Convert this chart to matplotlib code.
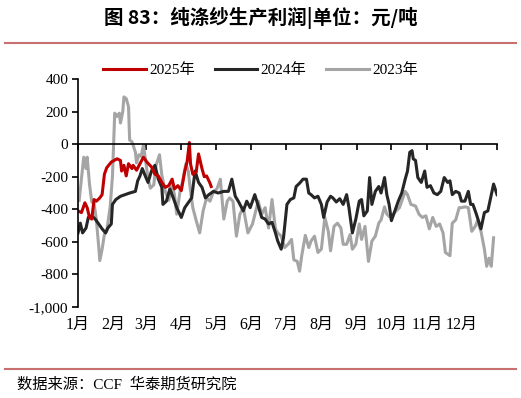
import numpy as np
import matplotlib.pyplot as plt
from matplotlib.lines import Line2D

plt.rcParams['font.family'] = ['Liberation Serif', 'Noto Sans CJK SC', 'DejaVu Sans']

# --- data (day of year, profit yuan/ton) ---
days_2025 = [0, 3, 6, 8, 10, 12, 14, 16, 19, 21, 23, 25, 29, 34, 37, 38, 40, 42, 44, 47,
             48, 51, 54, 57, 60, 64, 67, 70, 73, 76, 79, 82, 84, 87, 90, 93, 95, 97, 98,
             100, 103, 105, 108, 110, 112, 115, 116]
vals_2025 = [-410, -420, -360, -390, -450, -460, -340, -350, -330, -310, -185, -145, -110,
             -90, -100, -165, -130, -195, -120, -150, -130, -160, -120, -80, -110, -140,
             -185, -195, -235, -265, -255, -215, -275, -255, -285, -165, -110, 10, -120,
             -185, -170, -60, -150, -200, -195, -240, -260]

days_2024 = [0, 2, 4, 7, 9, 12, 15, 18, 21, 24, 26, 29, 30, 33, 37, 41, 45, 50, 52, 54,
             56, 58, 61, 64, 67, 70, 73, 74, 77, 80, 83, 86, 90, 93, 96, 99, 102, 105, 108,
             111, 114, 118, 122, 127, 131, 134, 137, 140, 144, 147, 150, 154, 157, 160,
             163, 166, 169, 172, 174, 177, 179, 182, 185, 188, 190, 193, 196, 199, 201,
             203, 206, 209, 212, 214, 217, 220, 222, 225, 228, 231, 234, 236, 239, 242,
             245, 247, 249, 252, 254, 256, 259, 262, 264, 267, 269, 271, 273, 276, 279,
             282, 285, 287, 289, 291, 292, 294, 296, 299, 302, 304, 307, 310, 313, 316,
             319, 322, 324, 326, 329, 332, 334, 337, 340, 342, 344, 347, 351, 354, 357,
             360, 362, 365]
vals_2024 = [-545, -485, -545, -515, -450, -440, -460, -490, -520, -545, -515, -490, -370,
             -340, -320, -310, -300, -290, -225, -195, -150, -185, -235, -165, -130, -215,
             -265, -370, -350, -275, -330, -390, -450, -390, -360, -330, -165, -235, -265,
             -330, -310, -290, -300, -290, -290, -215, -320, -355, -410, -350, -390, -310,
             -380, -450, -460, -490, -480, -545, -595, -645, -575, -370, -340, -330, -260,
             -240, -215, -215, -300, -310, -330, -320, -370, -450, -355, -320, -330, -355,
             -335, -370, -310, -390, -545, -460, -350, -340, -440, -410, -205, -370, -290,
             -260, -300, -205, -310, -370, -470, -410, -350, -300, -215, -165, -50, -40,
             -90, -100, -205, -235, -165, -265, -255, -300, -310, -290, -205, -235, -225,
             -310, -290, -300, -350, -350, -290, -370, -370, -430, -520, -420, -410, -310,
             -245, -310]

days_2023 = [1, 3, 5, 7, 8, 10, 12, 14, 16, 18, 19, 21, 23, 25, 28, 30, 32, 34, 36, 37,
             39, 40, 42, 44, 45, 47, 48, 50, 51, 53, 55, 57, 59, 61, 63, 66, 68, 71, 73,
             76, 79, 82, 84, 86, 89, 91, 94, 96, 98, 100, 103, 106, 109, 112, 115, 118,
             121, 124, 127, 130, 132, 135, 138, 141, 144, 148, 152, 157, 160, 163, 166,
             169, 172, 174, 177, 180, 183, 186, 188, 191, 193, 195, 198, 201, 203, 206,
             209, 212, 215, 218, 220, 223, 226, 229, 231, 234, 237, 239, 242, 245, 247,
             250, 253, 256, 259, 262, 264, 267, 269, 272, 277, 280, 283, 285, 287, 290,
             294, 297, 300, 303, 306, 309, 312, 315, 318, 320, 324, 326, 329, 332, 334,
             337, 340, 343, 346, 348, 351, 354, 356, 358, 360, 362]
vals_2023 = [-345, -215, -80, -150, -80, -245, -355, -365, -465, -625, -715, -645, -555,
             -535, -385, -200, 190, 170, 190, 130, 200, 290, 280, 230, 25, 15, -5, -50,
             -115, -65, -75, -5, -110, -210, -270, -250, -130, -65, -190, -290, -345, -250,
             -310, -430, -285, -235, -120, -165, -285, -390, -470, -545, -410, -330, -350,
             -290, -275, -215, -460, -350, -330, -350, -565, -430, -390, -545, -490, -350,
             -430, -390, -515, -340, -520, -545, -565, -635, -615, -585, -710, -720, -780,
             -680, -560, -635, -595, -565, -665, -645, -450, -535, -655, -505, -485, -515,
             -615, -615, -555, -645, -615, -490, -585, -505, -720, -595, -565, -485, -465,
             -385, -430, -450, -410, -390, -330, -290, -310, -370, -380, -430, -450, -440,
             -520, -450, -505, -490, -545, -665, -685, -485, -465, -390, -390, -385, -390,
             -535, -505, -470, -535, -645, -750, -700, -750, -575]

month_starts = [0, 31, 59, 90, 120, 151, 181, 212, 243, 273, 304, 334, 365]
month_labels = ['1月', '2月', '3月', '4月', '5月', '6月', '7月', '8月', '9月', '10月', '11月', '12月']

c25, c24, c23 = '#C00000', '#262626', '#A5A5A5'

fig = plt.figure(figsize=(5.21, 3.98), dpi=100)
ax = fig.add_axes([0.1497, 0.2286, 0.8043, 0.5729])

ax.plot(days_2023, vals_2023, color=c23, lw=2.2)
ax.plot(days_2024, vals_2024, color=c24, lw=2.2)
ax.plot(days_2025, vals_2025, color=c25, lw=2.2)

ax.set_xlim(0, 365)
ax.set_ylim(-1000, 400)
ax.set_yticks(np.arange(-1000, 401, 200))
ax.set_yticklabels([f'{v:,}' for v in range(-1000, 401, 200)], fontsize=11)
ax.set_xticks(month_starts)
ax.set_xticklabels([])
ax.tick_params(axis='y', direction='out', length=4, width=1.2, pad=3)
ax.tick_params(axis='x', direction='out', length=4, width=1.2)

for s in ['top', 'right']:
    ax.spines[s].set_visible(False)
ax.spines['bottom'].set_position(('data', 0))
ax.spines['left'].set_linewidth(1.2)
ax.spines['bottom'].set_linewidth(1.2)

# month labels at bottom of the plot
trans = ax.get_xaxis_transform()
for d, lab in zip(month_starts[:-1], month_labels):
    ax.text(d, -0.045, lab, transform=trans, ha='center', va='top', fontsize=11.5)

# legend
handles = [Line2D([], [], color=c25, lw=2.2), Line2D([], [], color=c24, lw=2.2),
           Line2D([], [], color=c23, lw=2.2)]
fig.legend(handles, ['2025年', '2024年', '2023年'], loc='center', ncol=3,
           bbox_to_anchor=(0.5, 0.824), frameon=False, fontsize=11,
           handlelength=2.8, handletextpad=0.2, columnspacing=1.3)

# title, rules and source
fig.text(0.5, 0.955, '图 83：纯涤纱生产利润|单位：元/吨', ha='center', va='center',
         fontsize=14, fontweight='bold', family=['Noto Sans CJK SC', 'DejaVu Sans'])
fig.add_artist(Line2D([0.01, 0.99], [0.893, 0.893], color='#C87070', lw=1.5))
fig.add_artist(Line2D([0.01, 0.99], [0.073, 0.073], color='#C87070', lw=1.5))
fig.text(0.032, 0.035, '数据来源：CCF  华泰期货研究院', ha='left', va='center',
         fontsize=11)

fig.savefig('out.png', dpi=100)
